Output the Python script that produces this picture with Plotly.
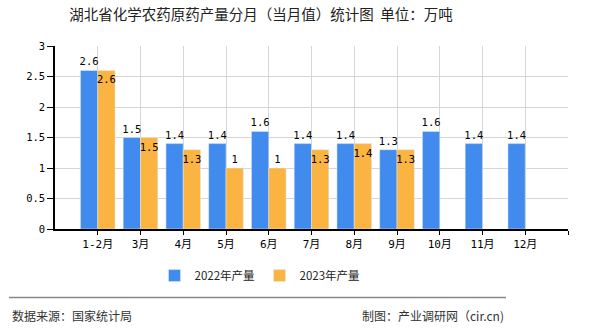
import plotly.graph_objects as go

months = ["1-2月", "3月", "4月", "5月", "6月", "7月", "8月", "9月", "10月", "11月", "12月"]
prod_2022 = [2.6, 1.5, 1.4, 1.4, 1.6, 1.4, 1.4, 1.3, 1.6, 1.4, 1.4]
prod_2023 = [2.6, 1.5, 1.3, 1, 1, 1.3, 1.4, 1.3, None, None, None]
y_ticks = [0, 0.5, 1, 1.5, 2, 2.5, 3]
y_ticktext = ["0", "0.5", "1", "1.5", "2", "2.5", "3"]

BLUE = "#418BEE"
ORANGE = "#FBB441"
MONO = "DejaVu Sans Mono, Noto Sans CJK SC, monospace"
CJK = "Noto Sans CJK SC, sans-serif"

xs = list(range(len(months)))

def fmt(v):
    if v is None:
        return ""
    return ("%g" % v)

fig = go.Figure()
fig.add_trace(go.Bar(
    x=xs, y=prod_2022, name="2022年产量", marker_color=BLUE,
    text=[fmt(v) for v in prod_2022], textposition="outside",
    textfont=dict(family=MONO, size=10.5, color="#000"),
    cliponaxis=False,
))
orange_pos = ["outside" if (v is not None and v <= 1) else "inside" for v in prod_2023]
fig.add_trace(go.Bar(
    x=xs, y=prod_2023, name="2023年产量", marker_color=ORANGE,
    text=[fmt(v) for v in prod_2023], textposition=orange_pos,
    insidetextanchor="end", textangle=0,
    textfont=dict(family=MONO, size=10.5, color="#000"),
    cliponaxis=False,
))

fig.update_layout(
    width=590, height=330,
    margin=dict(l=55, r=22, t=46, b=101),
    paper_bgcolor="white", plot_bgcolor="white",
    barmode="group", bargap=0.19, bargroupgap=0,
    uniformtext=dict(mode="show", minsize=10.5),
    title=dict(
        text="湖北省化学农药原药产量分月（当月值）统计图  单位：万吨",
        font=dict(family=CJK, size=14.5, color="#222"),
        xref="container", x=261 / 590, xanchor="center",
        yref="container", y=1 - 15 / 330, yanchor="middle",
    ),
    legend=dict(
        orientation="h", x=(260 - 55) / 513, xanchor="center",
        y=(229.3 - 276) / 183.3, yanchor="middle",
        font=dict(family=CJK, size=11.5, color="#222"),
        itemwidth=30, traceorder="normal",
    ),
    showlegend=True,
)

fig.update_xaxes(
    range=[-1, len(months)],
    tickmode="array", tickvals=list(range(len(months) + 1)), ticktext=months + [""],
    showgrid=True, gridcolor="#d6d6d6", gridwidth=1,
    showline=True, linecolor="#000", linewidth=1.5,
    ticks="outside", ticklen=4, tickcolor="#000",
    tickfont=dict(family=MONO, size=11, color="#000"),
    zeroline=False, fixedrange=True,
)
fig.update_yaxes(
    range=[0, 3],
    tickmode="array", tickvals=y_ticks, ticktext=y_ticktext,
    showgrid=True, gridcolor="#d6d6d6", gridwidth=1,
    showline=True, linecolor="#000", linewidth=1.5,
    ticks="outside", ticklen=6, tickcolor="#000",
    tickfont=dict(family=MONO, size=10.5, color="#000"),
    zeroline=False, fixedrange=True,
)

# footer separator line
fig.add_shape(type="line", xref="paper", yref="paper",
              x0=(9 - 55) / 513, x1=(506 - 55) / 513,
              y0=(229.3 - 298) / 183.3, y1=(229.3 - 298) / 183.3,
              line=dict(color="#888", width=1.5))
fig.add_annotation(text="数据来源：国家统计局", xref="paper", yref="paper",
                   x=(10 - 55) / 513, y=(229.3 - 316) / 183.3,
                   xanchor="left", yanchor="middle", showarrow=False,
                   font=dict(family=CJK, size=12, color="#333"))
fig.add_annotation(text="制图：产业调研网（cir.cn)", xref="paper", yref="paper",
                   x=(506 - 55) / 513, y=(229.3 - 316) / 183.3,
                   xanchor="right", yanchor="middle", showarrow=False,
                   font=dict(family=CJK, size=12, color="#333"))

fig.write_html("out.html")
